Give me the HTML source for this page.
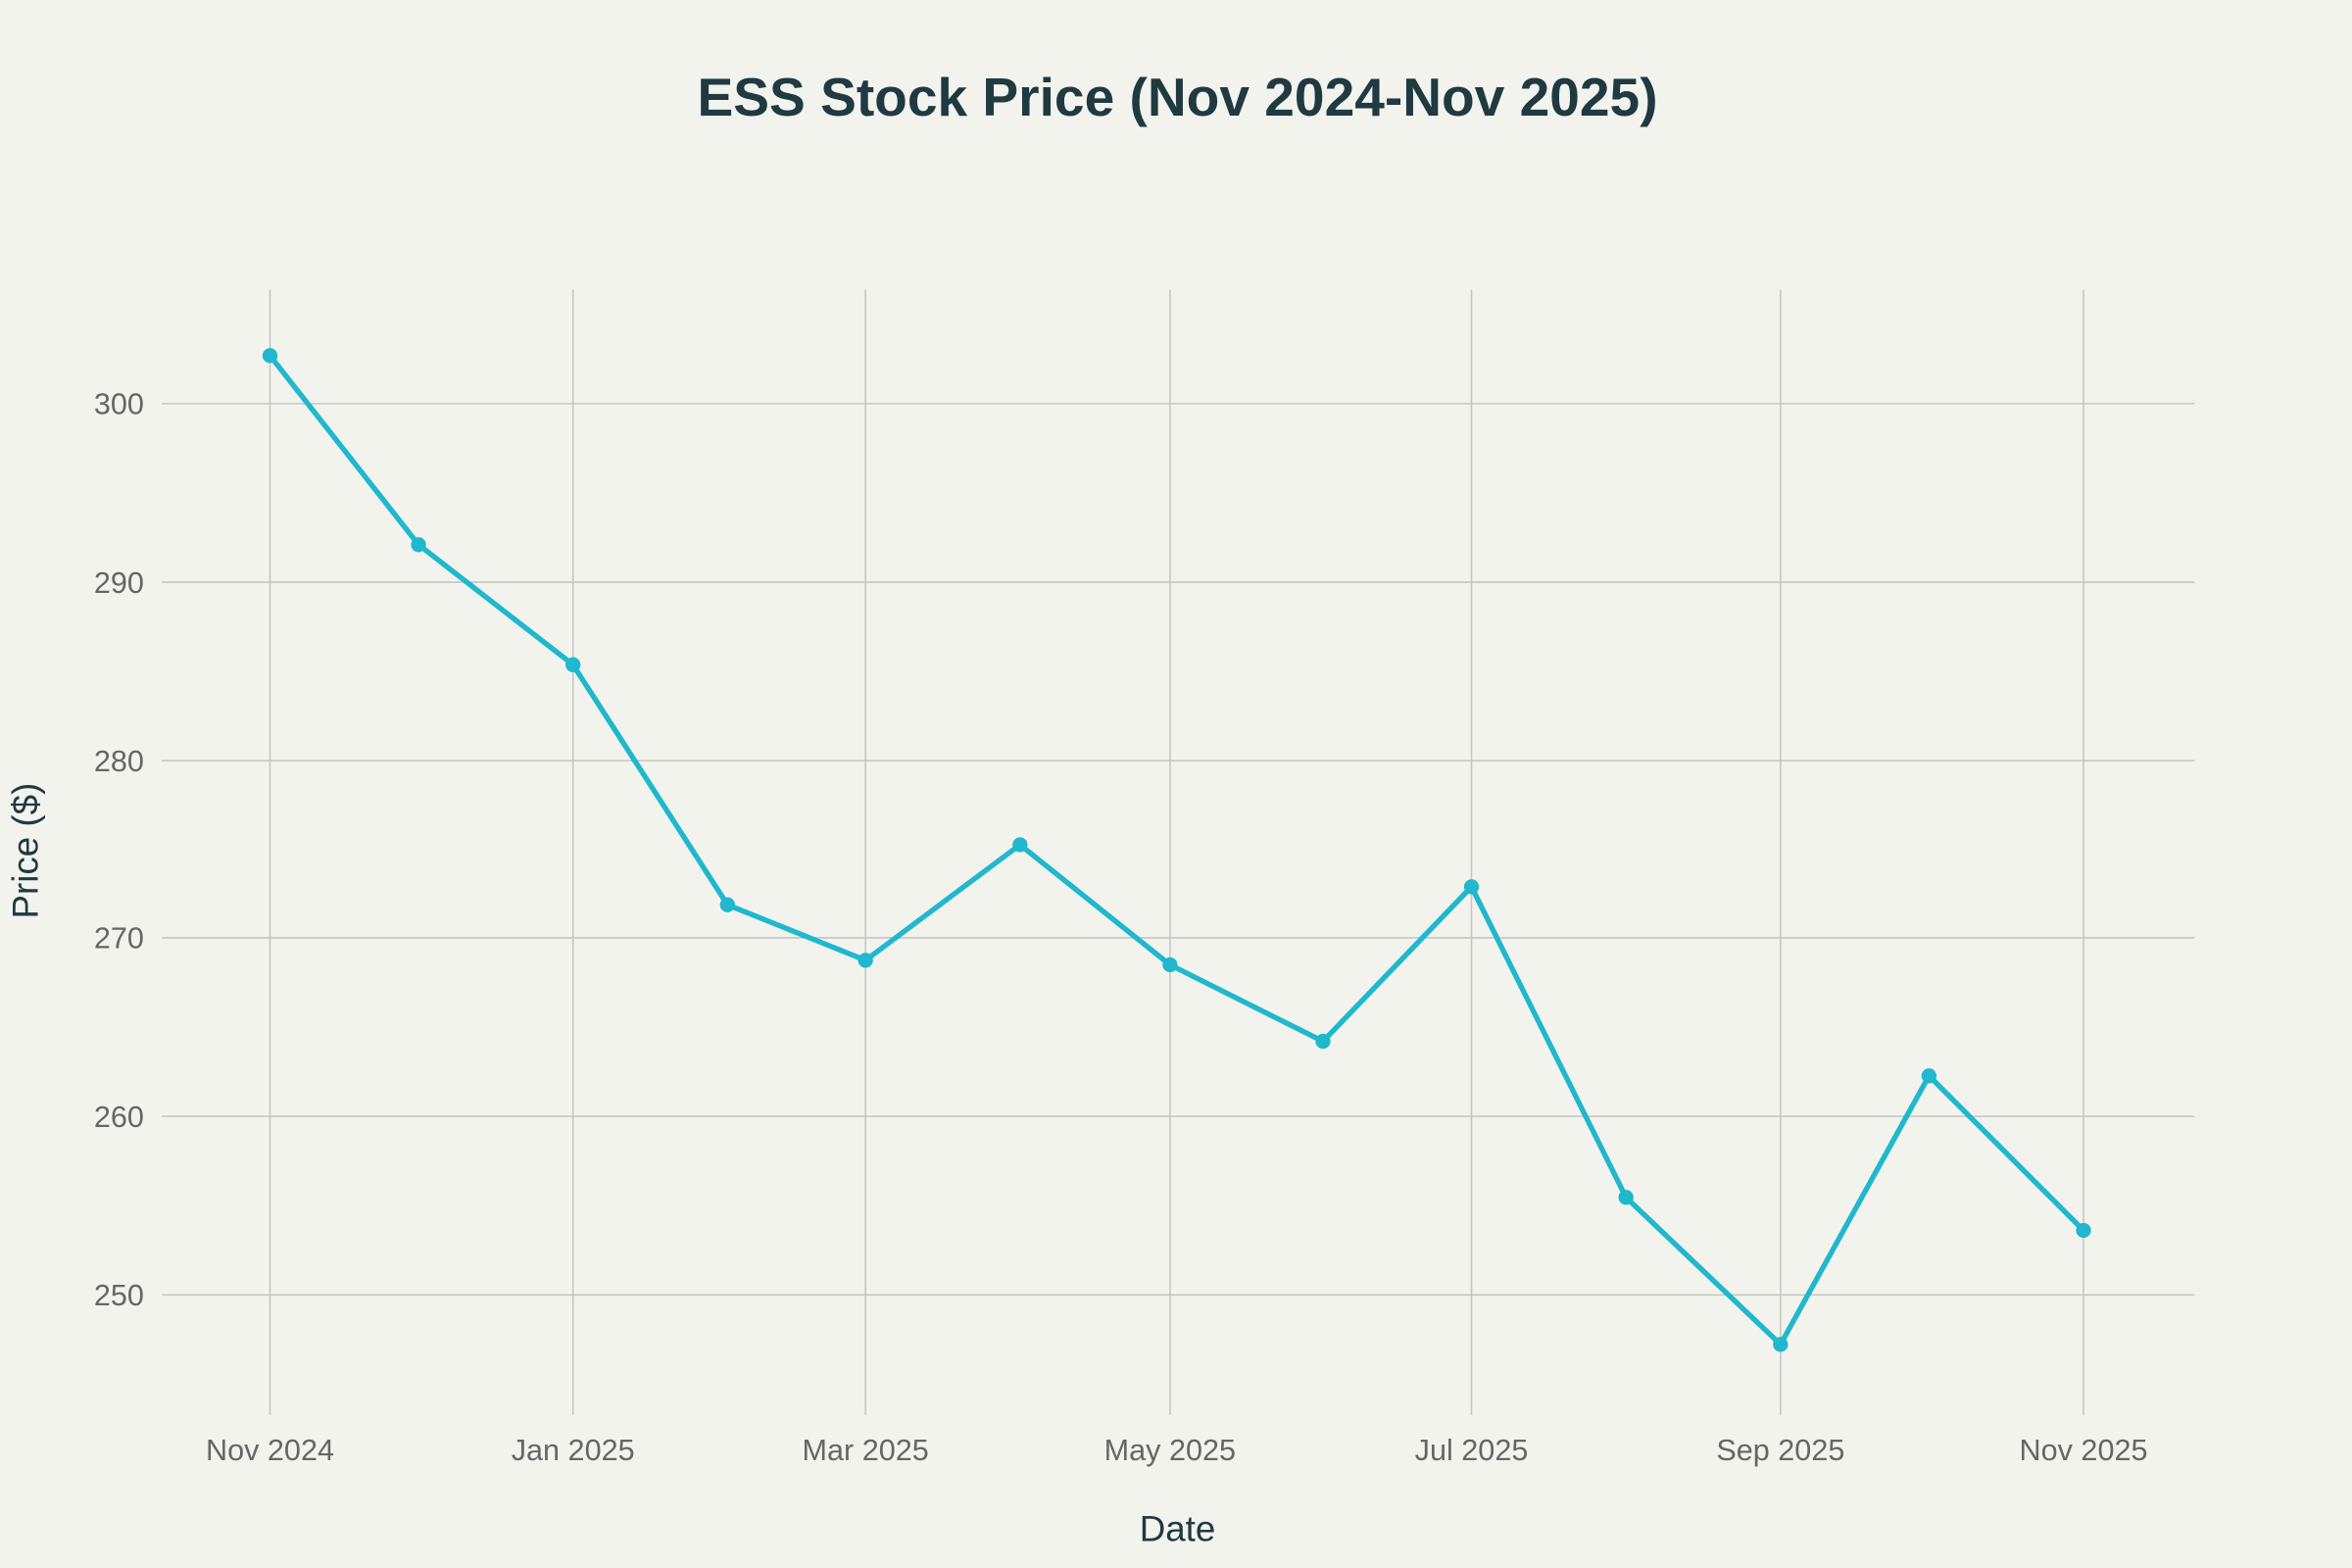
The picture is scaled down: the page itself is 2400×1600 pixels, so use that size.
<!DOCTYPE html>
<html><head><meta charset="utf-8"><style>
html,body{margin:0;padding:0;background:#f3f3ee;}
svg{display:block;}
text{font-family:"Liberation Sans",sans-serif;}
</style></head><body>
<svg width="2400" height="1600" viewBox="0 0 1568 1045" preserveAspectRatio="none" xmlns="http://www.w3.org/2000/svg">
<rect width="1568" height="1045" fill="#f3f3ee"/>
<text x="785" y="77" text-anchor="middle" font-size="36" font-weight="bold" fill="#1f3a40">ESS Stock Price (Nov 2024-Nov 2025)</text>
<g stroke="#c4c5c1" stroke-width="1">
<line x1="108" x2="1463" y1="269" y2="269"/>
<line x1="108" x2="1463" y1="388" y2="388"/>
<line x1="108" x2="1463" y1="507" y2="507"/>
<line x1="108" x2="1463" y1="625" y2="625"/>
<line x1="108" x2="1463" y1="744" y2="744"/>
<line x1="108" x2="1463" y1="863" y2="863"/>
<line x1="180" x2="180" y1="193" y2="943"/>
<line x1="382" x2="382" y1="193" y2="943"/>
<line x1="577" x2="577" y1="193" y2="943"/>
<line x1="780" x2="780" y1="193" y2="943"/>
<line x1="981" x2="981" y1="193" y2="943"/>
<line x1="1187" x2="1187" y1="193" y2="943"/>
<line x1="1389" x2="1389" y1="193" y2="943"/>
</g>
<g font-size="20" fill="#666" text-anchor="end">
<text x="96" y="276">300</text>
<text x="96" y="395">290</text>
<text x="96" y="514">280</text>
<text x="96" y="632">270</text>
<text x="96" y="751">260</text>
<text x="96" y="870">250</text>
</g>
<g font-size="20" fill="#666" text-anchor="middle">
<text x="180" y="973">Nov 2024</text>
<text x="382" y="973">Jan 2025</text>
<text x="577" y="973">Mar 2025</text>
<text x="780" y="973">May 2025</text>
<text x="981" y="973">Jul 2025</text>
<text x="1187" y="973">Sep 2025</text>
<text x="1389" y="973">Nov 2025</text>
</g>
<text x="785" y="1027" text-anchor="middle" font-size="24" fill="#1f3a40">Date</text>
<text transform="translate(25,567) rotate(-90)" text-anchor="middle" font-size="24" fill="#1f3a40">Price ($)</text>
<polyline fill="none" stroke="#1fb8cd" stroke-width="3.5" stroke-linejoin="round" points="180,237 279,363 382,443 485,603 577,640 680,563 780,643 882,694 981,591 1084,798 1187,896 1286,717 1389,820"/>
<g fill="#1fb8cd">
<circle cx="180" cy="237" r="5"/><circle cx="279" cy="363" r="5"/><circle cx="382" cy="443" r="5"/>
<circle cx="485" cy="603" r="5"/><circle cx="577" cy="640" r="5"/><circle cx="680" cy="563" r="5"/>
<circle cx="780" cy="643" r="5"/><circle cx="882" cy="694" r="5"/><circle cx="981" cy="591" r="5"/>
<circle cx="1084" cy="798" r="5"/><circle cx="1187" cy="896" r="5"/><circle cx="1286" cy="717" r="5"/>
<circle cx="1389" cy="820" r="5"/>
</g>
</svg>
</body></html>
